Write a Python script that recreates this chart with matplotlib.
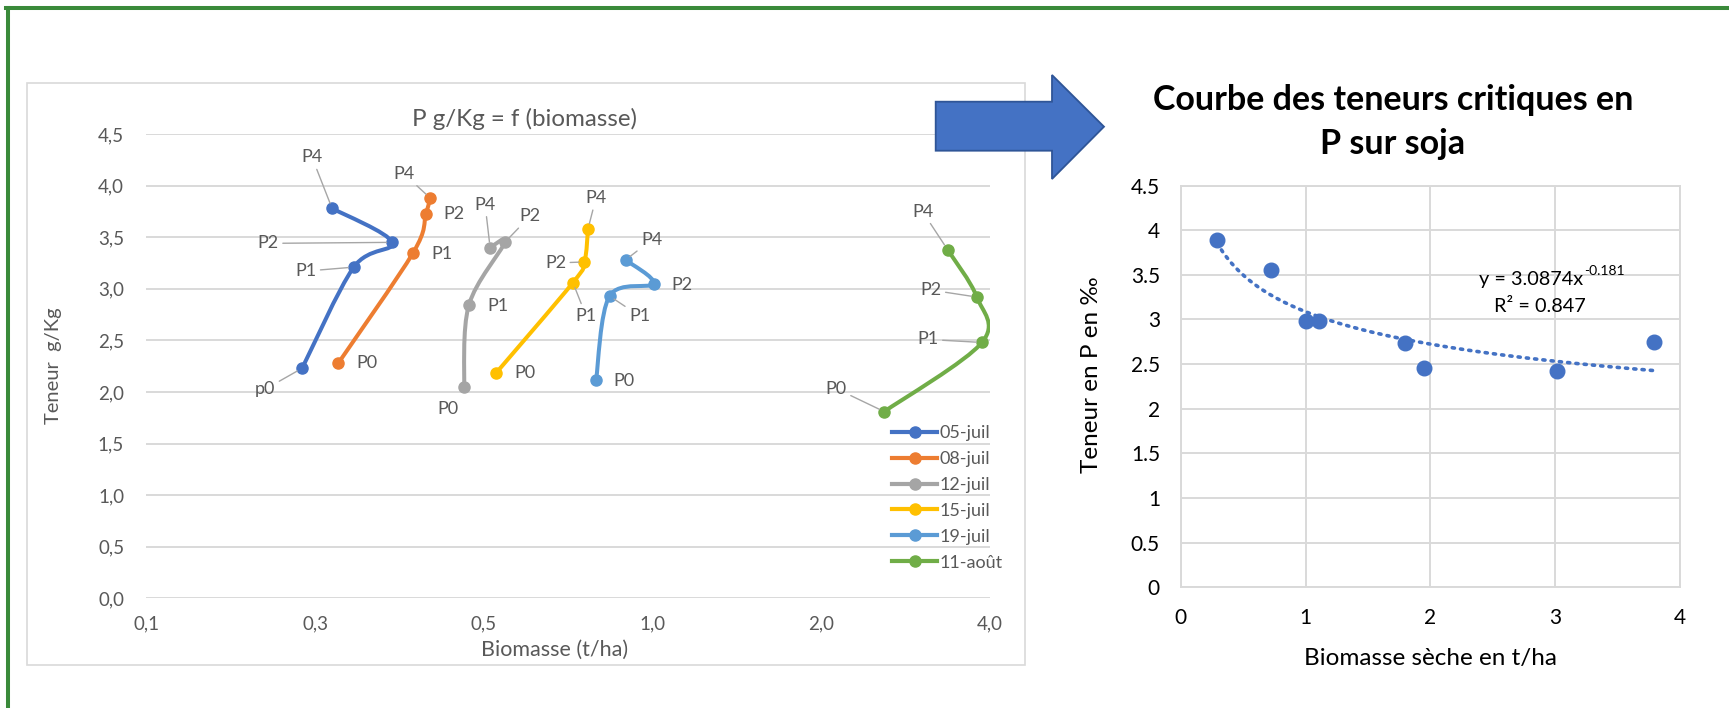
import numpy as np
import matplotlib
matplotlib.use("Agg")
import matplotlib.pyplot as plt
from matplotlib.path import Path
from matplotlib.patches import PathPatch, Polygon, Rectangle
from matplotlib.lines import Line2D

plt.rcParams["font.family"] = ["Lato", "DejaVu Sans"]

W, H = 1729, 708

# left chart: P content against biomass, one curve per sampling date
dates = ["05-juil", "08-juil", "12-juil", "15-juil", "19-juil", "11-août"]
colors = ["#4472C4", "#ED7D31", "#A5A5A5", "#FFC000", "#5B9BD5", "#70AD47"]
stage_labels = [["p0", "P1", "P2", "P4"]] + [["P0", "P1", "P2", "P4"]] * 5
biomass = [
    [0.237, 0.293, 0.343, 0.268],
    [0.275, 0.374, 0.394, 0.401],
    [0.461, 0.470, 0.545, 0.513],
    [0.525, 0.721, 0.756, 0.767],
    [0.793, 0.838, 1.004, 0.895],
    [2.59, 3.87, 3.79, 3.36],
]
teneur = [
    [2.23, 3.21, 3.45, 3.78],
    [2.28, 3.35, 3.72, 3.88],
    [2.05, 2.84, 3.45, 3.40],
    [2.18, 3.06, 3.26, 3.58],
    [2.12, 2.93, 3.05, 3.28],
    [1.81, 2.48, 2.92, 3.38],
]
x_ticks = [0.125, 0.25, 0.5, 1, 2, 4]
x_ticklabels = ["0,1", "0,3", "0,5", "1,0", "2,0", "4,0"]
y_ticks = [0, 0.5, 1, 1.5, 2, 2.5, 3, 3.5, 4, 4.5]

# right chart: critical P content
crit_biomass = [0.29, 0.72, 1.006, 1.11, 1.80, 1.947, 3.015, 3.79]
crit_teneur = [3.89, 3.55, 2.98, 2.98, 2.74, 2.46, 2.42, 2.75]

# data label placement (pixel offsets, leader line or not)
label_offsets = [
    [(-37, -21, True), (-48, -4, True), (-124, -1, True), (-20, 51, True)],
    [(29, 0, False), (29, -1, False), (28, 0, False), (-26, 24, True)],
    [(-16, -22, False), (29, -1, False), (25, 26, True), (-5, 43, True)],
    [(29, 0, False), (13, -33, True), (-29, -1, True), (8, 31, True)],
    [(28, -1, False), (30, -20, True), (28, -1, False), (26, 20, True)],
    [(-48, 23, True), (-54, 3, True), (-46, 7, True), (-25, 38, True)],
]

grey_txt = "#595959"
grid_c = "#D9D9D9"


def box(x0, y0, x1, y1):
    return [x0 / W, 1 - y1 / H, (x1 - x0) / W, (y1 - y0) / H]


def smooth_path(ax, xs, ys):
    # Excel style smoothed line: Catmull-Rom through the points, in screen space
    pts = ax.transData.transform(np.column_stack([xs, ys]))
    n = len(pts)
    verts = [pts[0]]
    codes = [Path.MOVETO]
    for i in range(n - 1):
        p0, p1 = pts[max(i - 1, 0)], pts[i]
        p2, p3 = pts[i + 1], pts[min(i + 2, n - 1)]
        verts += [p1 + (p2 - p0) / 6, p2 - (p3 - p1) / 6, p2]
        codes += [Path.CURVE4] * 3
    verts = ax.transData.inverted().transform(np.array(verts))
    return Path(verts, codes)


fig = plt.figure(figsize=(W / 100, H / 100), dpi=100)

# green frame (top and left only)
fig.add_artist(Line2D([8 / W, 8 / W], [0, 1 - 8 / H], color="#3A8A3A", lw=2.9))
fig.add_artist(Line2D([6 / W, 1], [1 - 8 / H, 1 - 8 / H], color="#3A8A3A", lw=2.9))

# left chart frame
x0, y0, x1, y1 = box(27, 83, 1025, 665)
fig.add_artist(Rectangle((x0, y0), x1, y1, transform=fig.transFigure,
                         fill=False, ec=grid_c, lw=1.2))

ax = fig.add_axes(box(146.4, 134, 990, 598.4))
ax.set_xscale("log", base=2)
ax.set_xlim(0.125, 4)
ax.set_ylim(0, 4.5)
ax.set_xticks(x_ticks)
ax.set_xticklabels(x_ticklabels)
ax.minorticks_off()
ax.set_yticks(y_ticks)
ax.set_yticklabels([f"{v:.1f}".replace(".", ",") for v in y_ticks])
ax.tick_params(axis="both", length=0, labelsize=13.5, labelcolor=grey_txt)
ax.tick_params(axis="y", pad=16)
ax.tick_params(axis="x", pad=12)
ax.grid(axis="y", color=grid_c, lw=1.4)
ax.set_axisbelow(True)
for s in ax.spines.values():
    s.set_visible(False)

for i, (xs, ys) in enumerate(zip(biomass, teneur)):
    ax.add_patch(PathPatch(smooth_path(ax, xs, ys), fill=False, ec=colors[i],
                           lw=2.9, capstyle="round", joinstyle="round", zorder=3))
    ax.plot(xs, ys, "o", color=colors[i], ms=8, zorder=4)
    for j, lab in enumerate(stage_labels[i]):
        dx, dy, leader = label_offsets[i][j]
        arrow = None
        if leader:
            arrow = dict(arrowstyle="-", color="#A6A6A6", lw=1.0, shrinkA=1, shrinkB=4)
        ax.annotate(lab, xy=(xs[j], ys[j]), xytext=(dx, dy), textcoords="offset pixels",
                    ha="center", va="center", fontsize=13, color=grey_txt,
                    arrowprops=arrow, zorder=5)

fig.text(525 / W, 1 - 119 / H, "P g/Kg = f (biomasse)", ha="center", va="center",
         fontsize=17.4, color=grey_txt)
fig.text(555 / W, 1 - 650 / H, "Biomasse (t/ha)", ha="center", va="center",
         fontsize=15.5, color=grey_txt)
fig.text(53 / W, 1 - 366 / H, "Teneur  g/Kg", ha="center", va="center",
         rotation=90, fontsize=14.5, color=grey_txt)

handles = [Line2D([], [], color=c, lw=3, marker="o", ms=8) for c in colors]
fig.legend(handles, dates, loc="upper left", bbox_to_anchor=(892 / W, 1 - 425 / H),
           frameon=False, fontsize=13, handlelength=2.5, handletextpad=0.15,
           labelspacing=0.55, borderpad=0, borderaxespad=0, labelcolor=grey_txt)

# blue arrow
arrow_px = [(935.7, 101.7), (1052, 101.7), (1052, 75), (1104, 126.7),
            (1052, 179), (1052, 150.7), (935.7, 150.7)]
fig.add_artist(Polygon([(px / W, 1 - py / H) for px, py in arrow_px], closed=True,
                       transform=fig.transFigure, fc="#4472C4", ec="#2F5597", lw=1.3))

# right chart
ax2 = fig.add_axes(box(1180.8, 185.5, 1680.1, 587.3))
ax2.set_xlim(0, 4)
ax2.set_ylim(0, 4.5)
ax2.set_xticks([0, 1, 2, 3, 4])
ax2.set_yticks(y_ticks)
ax2.set_yticklabels([f"{v:g}" for v in y_ticks])
ax2.tick_params(axis="both", length=0, labelsize=15, labelcolor="black", pad=15)
ax2.grid(color=grid_c, lw=1.4)
ax2.set_axisbelow(True)
for s in ax2.spines.values():
    s.set_color(grid_c)
    s.set_linewidth(1.4)

slope, icpt = np.polyfit(np.log(crit_biomass), np.log(crit_teneur), 1)
xs_fit = np.linspace(min(crit_biomass), max(crit_biomass), 300)
ax2.plot(xs_fit, np.exp(icpt) * xs_fit ** slope, color="#4472C4", lw=2.6,
         linestyle=(0, (0.6, 1.7)), dash_capstyle="round", zorder=3)
ax2.plot(crit_biomass, crit_teneur, "o", color="#4472C4", ms=10.5, zorder=4)

fig.text(1583 / W, 1 - 279 / H, "y = 3.0874x", ha="right", va="center",
         fontsize=14.3)
fig.text(1584 / W, 1 - 271 / H, "-0.181", ha="left", va="center", fontsize=10)
fig.text(1540 / W, 1 - 307 / H, "R² = 0.847", ha="center", va="center", fontsize=14.3)

fig.text(1393 / W, 1 - 122 / H, "Courbe des teneurs critiques en\nP sur soja",
         ha="center", va="center", fontsize=24.5, fontweight="bold", linespacing=1.5)
fig.text(1430.5 / W, 1 - 658 / H, "Biomasse sèche en t/ha", ha="center", va="center",
         fontsize=17.5)
fig.text(1091 / W, 1 - 375 / H, "Teneur en P en ‰", ha="center", va="center",
         rotation=90, fontsize=17.5)

fig.savefig("out.png", dpi=100, facecolor="white")
